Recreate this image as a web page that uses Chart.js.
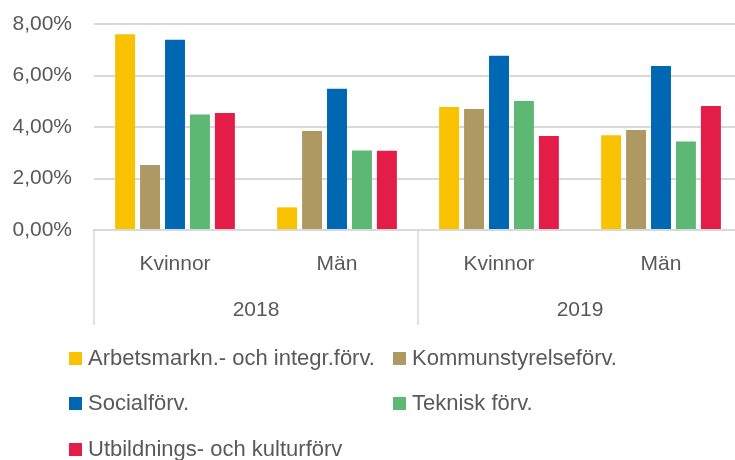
<!DOCTYPE html>
<html>
<head>
<meta charset="utf-8">
<script src="https://cdn.jsdelivr.net/npm/chart.js@4"></script>
<style>
  html, body { margin: 0; padding: 0; background: #fff; overflow: hidden; }
  #wrap { width: 742px; height: 460px; }
</style>
</head>
<body>
<div id="wrap"><canvas id="grafica"></canvas></div>
<script>
// --- datos ---
const kategorier = ['Kvinnor', 'Män', 'Kvinnor', 'Män'];
const ar = ['2018', '2019'];
const serieNamn = [
  'Arbetsmarkn.- och integr.förv.',
  'Kommunstyrelseförv.',
  'Socialförv.',
  'Teknisk förv.',
  'Utbildnings- och kulturförv'
];
const arbetsmarkn = [7.60, 0.88, 4.78, 3.68];
const kommunstyrelse = [2.52, 3.84, 4.70, 3.88];
const social = [7.39, 5.49, 6.77, 6.37];
const teknisk = [4.49, 3.09, 5.01, 3.44];
const utbildning = [4.54, 3.08, 3.65, 4.82];
const yTicks = [0, 2, 4, 6, 8];

const farger = ['#F8C200', '#AE9963', '#0068B2', '#5DB874', '#E31C48'];
const textFarg = '#595959';
const gridFarg = '#d9d9d9';
const fontFamilj = '"Liberation Sans", Arial, sans-serif';
const fontAxel = 21;
const fontLegend = 22;

// --- plugin: årsrader, avgränsare och legend ---
const extraPlugin = {
  id: 'extra',
  afterDraw(chart) {
    const ctx = chart.ctx;
    const x = chart.scales.x;
    const area = chart.chartArea;
    ctx.save();
    // separatorer mellan år
    const steg = x.getPixelForValue(1) - x.getPixelForValue(0);
    const kanter = [x.getPixelForValue(0) - steg / 2, x.getPixelForValue(1) + steg / 2, x.getPixelForValue(3) + steg / 2];
    ctx.strokeStyle = gridFarg;
    ctx.lineWidth = 1.5;
    kanter.forEach(px => {
      ctx.beginPath();
      ctx.moveTo(px, area.bottom);
      ctx.lineTo(px, area.bottom + 95);
      ctx.stroke();
    });
    // årtal
    ctx.fillStyle = textFarg;
    ctx.font = fontAxel + 'px ' + fontFamilj;
    ctx.textAlign = 'center';
    ctx.textBaseline = 'middle';
    ar.forEach((a, i) => {
      const mitt = (x.getPixelForValue(i * 2) + x.getPixelForValue(i * 2 + 1)) / 2;
      ctx.fillText(a, mitt, area.bottom + 80);
    });
    // legend i två kolumner
    const kolX = [69, 393];
    const radY = [359, 404, 450];
    ctx.textAlign = 'left';
    ctx.font = fontLegend + 'px ' + fontFamilj;
    chart.data.datasets.forEach((ds, i) => {
      const lx = kolX[i % 2];
      const ly = radY[Math.floor(i / 2)];
      ctx.fillStyle = ds.backgroundColor;
      ctx.fillRect(lx, ly - 7, 13, 13);
      ctx.fillStyle = textFarg;
      ctx.fillText(ds.label, lx + 19, ly);
    });
    ctx.restore();
  }
};

const serier = [arbetsmarkn, kommunstyrelse, social, teknisk, utbildning];

new Chart(document.getElementById('grafica'), {
  type: 'bar',
  data: {
    labels: kategorier,
    datasets: serier.map((d, i) => ({
      label: serieNamn[i],
      data: d,
      backgroundColor: farger[i],
      barPercentage: 0.8,
      categoryPercentage: 0.77
    }))
  },
  options: {
    responsive: true,
    maintainAspectRatio: false,
    animation: false,
    layout: { padding: { top: 24, left: 0, right: 0, bottom: 0 } },
    plugins: {
      legend: { display: false },
      tooltip: { enabled: false }
    },
    scales: {
      x: {
        grid: { display: false },
        border: { display: true, color: gridFarg, width: 2 },
        ticks: {
          color: textFarg,
          font: { family: fontFamilj, size: fontAxel },
          padding: 14
        },
        afterFit: scale => { scale.height = 230; }
      },
      y: {
        min: 0,
        max: 8,
        afterBuildTicks: scale => { scale.ticks = yTicks.map(v => ({ value: v })); },
        grid: { color: gridFarg, lineWidth: 2, drawTicks: false },
        border: { display: false },
        ticks: {
          color: textFarg,
          font: { family: fontFamilj, size: fontAxel },
          padding: 22,
          callback: v => v.toFixed(2).replace('.', ',') + '%'
        },
        afterFit: scale => { scale.width = 94; scale.paddingTop = 0; scale.paddingBottom = 0; }
      }
    }
  },
  plugins: [extraPlugin]
});
</script>
</body>
</html>
